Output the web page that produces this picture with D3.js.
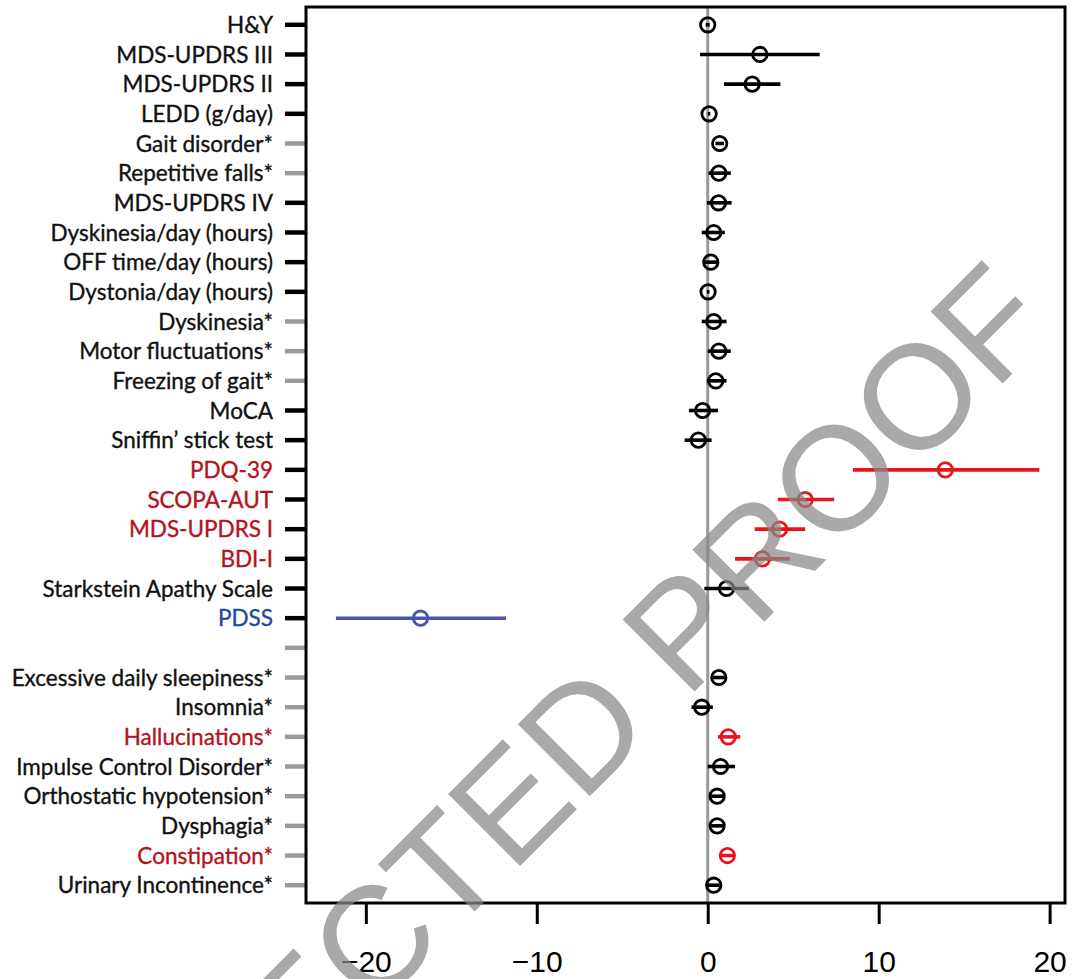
<!DOCTYPE html>
<html>
<head>
<meta charset="utf-8">
<script src="https://cdn.jsdelivr.net/npm/d3@7"></script>
<style>
  body { margin: 0; background: #fff; }
  svg { display: block; }
</style>
</head>
<body>
<script>
// rows, top to bottom ("" = spacer row)
const labels = [
  "H&Y", "MDS-UPDRS III", "MDS-UPDRS II", "LEDD (g/day)", "Gait disorder*",
  "Repetitive falls*", "MDS-UPDRS IV", "Dyskinesia/day (hours)", "OFF time/day (hours)",
  "Dystonia/day (hours)", "Dyskinesia*", "Motor fluctuations*", "Freezing of gait*",
  "MoCA", "Sniffin’ stick test", "PDQ-39", "SCOPA-AUT", "MDS-UPDRS I", "BDI-I",
  "Starkstein Apathy Scale", "PDSS", "", "Excessive daily sleepiness*", "Insomnia*",
  "Hallucinations*", "Impulse Control Disorder*", "Orthostatic hypotension*",
  "Dysphagia*", "Constipation*", "Urinary Incontinence*"
];
const estimate = [
  0.0, 3.05, 2.6, 0.08, 0.7, 0.65, 0.63, 0.35, 0.18, 0.02, 0.35, 0.65, 0.47,
  -0.3, -0.55, 13.9, 5.7, 4.2, 3.2, 1.1, -16.8, null, 0.65, -0.35, 1.2, 0.75,
  0.55, 0.55, 1.15, 0.35
];
const lower = [
  -0.12, -0.45, 0.95, 0.0, 0.45, 0.05, -0.05, -0.35, -0.2, -0.05, -0.35, 0.0, -0.05,
  -1.1, -1.35, 8.5, 4.1, 2.75, 1.6, -0.2, -21.75, null, 0.3, -0.95, 0.6, 0.0,
  0.2, 0.2, 0.75, 0.0
];
const upper = [
  0.12, 6.55, 4.25, 0.15, 0.95, 1.35, 1.4, 1.0, 0.55, 0.1, 1.1, 1.35, 1.1,
  0.6, 0.23, 19.4, 7.4, 5.7, 4.8, 2.4, -11.8, null, 1.0, 0.3, 1.9, 1.6,
  0.9, 0.9, 1.55, 0.7
];
// "up" = significantly higher, "down" = significantly lower, "ns" = not significant
const group = [
  "ns", "ns", "ns", "ns", "ns", "ns", "ns", "ns", "ns", "ns", "ns", "ns", "ns",
  "ns", "ns", "up", "up", "up", "up", "ns", "down", "ns", "ns", "ns", "up", "ns",
  "ns", "ns", "up", "ns"
];
const xTicks = [-20, -10, 0, 10, 20];

const labelColor = { ns: "#111", up: "#b3131d", down: "#1d4a9a" };
const markColor = { ns: "#000", up: "#e8141c", down: "#4a55a8" };

const width = 1072, height = 979;
const box = { left: 306, right: 1065, top: 7, bottom: 903 };

const rows = labels.map((label, i) => ({
  label, i,
  est: estimate[i], lo: lower[i], hi: upper[i],
  group: group[i],
  binary: label === "" || label.endsWith("*")
}));

const x = d3.scaleLinear().domain([-23.5, 20.9]).range([box.left, box.right]);
const y = d3.scaleLinear().domain([-0.6, 29.6]).range([box.top, box.bottom]);

const svg = d3.select("body").append("svg")
  .attr("width", width)
  .attr("height", height);

svg.append("rect").attr("width", width).attr("height", height).attr("fill", "#fff");

// zero reference line
svg.append("line")
  .attr("x1", x(0)).attr("x2", x(0))
  .attr("y1", box.top).attr("y2", box.bottom)
  .attr("stroke", "#9a9a9a")
  .attr("stroke-width", 3);

// y axis ticks + labels
const yAxis = svg.append("g").attr("class", "yAxis");
yAxis.selectAll("line")
  .data(rows)
  .join("line")
  .attr("x1", box.left - 21).attr("x2", box.left)
  .attr("y1", d => y(d.i)).attr("y2", d => y(d.i))
  .attr("stroke", d => d.binary ? "#9a9a9a" : "#000")
  .attr("stroke-width", 4.5);

yAxis.selectAll("text")
  .data(rows.filter(d => d.label !== ""))
  .join("text")
  .attr("x", box.left - 33)
  .attr("y", d => y(d.i))
  .attr("dy", "0.36em")
  .attr("text-anchor", "end")
  .attr("font-family", "Lato, 'Open Sans', sans-serif")
  .attr("font-size", 22.5)
  .attr("fill", d => labelColor[d.group])
  .attr("stroke", d => labelColor[d.group])
  .attr("stroke-width", 0.35)
  .text(d => d.label);

// confidence intervals and point estimates
const marks = svg.append("g")
  .selectAll("g.row")
  .data(rows.filter(d => d.est !== null))
  .join("g")
  .attr("class", "row")
  .attr("transform", d => `translate(0,${y(d.i)})`);

marks.append("line")
  .attr("x1", d => x(d.lo)).attr("x2", d => x(d.hi))
  .attr("stroke", d => markColor[d.group])
  .attr("stroke-width", 3.6);

marks.append("circle")
  .attr("cx", d => x(d.est))
  .attr("r", 7.2)
  .attr("fill", "none")
  .attr("stroke", d => markColor[d.group])
  .attr("stroke-width", 2.8);

// frame
svg.append("rect")
  .attr("x", box.left).attr("y", box.top)
  .attr("width", box.right - box.left)
  .attr("height", box.bottom - box.top)
  .attr("fill", "none")
  .attr("stroke", "#000")
  .attr("stroke-width", 3);

// x axis
const xAxis = svg.append("g").attr("transform", `translate(0,${box.bottom})`);
xAxis.call(d3.axisBottom(x).tickValues(xTicks).tickSize(21)
  .tickFormat(d => d < 0 ? "\u2212" + Math.abs(d) : d));
xAxis.select(".domain").remove();
xAxis.selectAll(".tick line").attr("stroke", "#000").attr("stroke-width", 3);
xAxis.selectAll(".tick text")
  .attr("font-family", "'Liberation Sans', Arial, sans-serif")
  .attr("font-size", 30)
  .attr("fill", "#000")
  .attr("y", 69)
  .attr("dy", null);

// watermark
svg.append("text")
  .attr("transform", "translate(1058,328) rotate(-45)")
  .attr("text-anchor", "end")
  .attr("font-family", "'Liberation Sans', Arial, sans-serif")
  .attr("font-size", 148)
  .attr("fill", "#888")
  .attr("fill-opacity", 0.72)
  .text("CORRECTED PROOF");
</script>
</body>
</html>
